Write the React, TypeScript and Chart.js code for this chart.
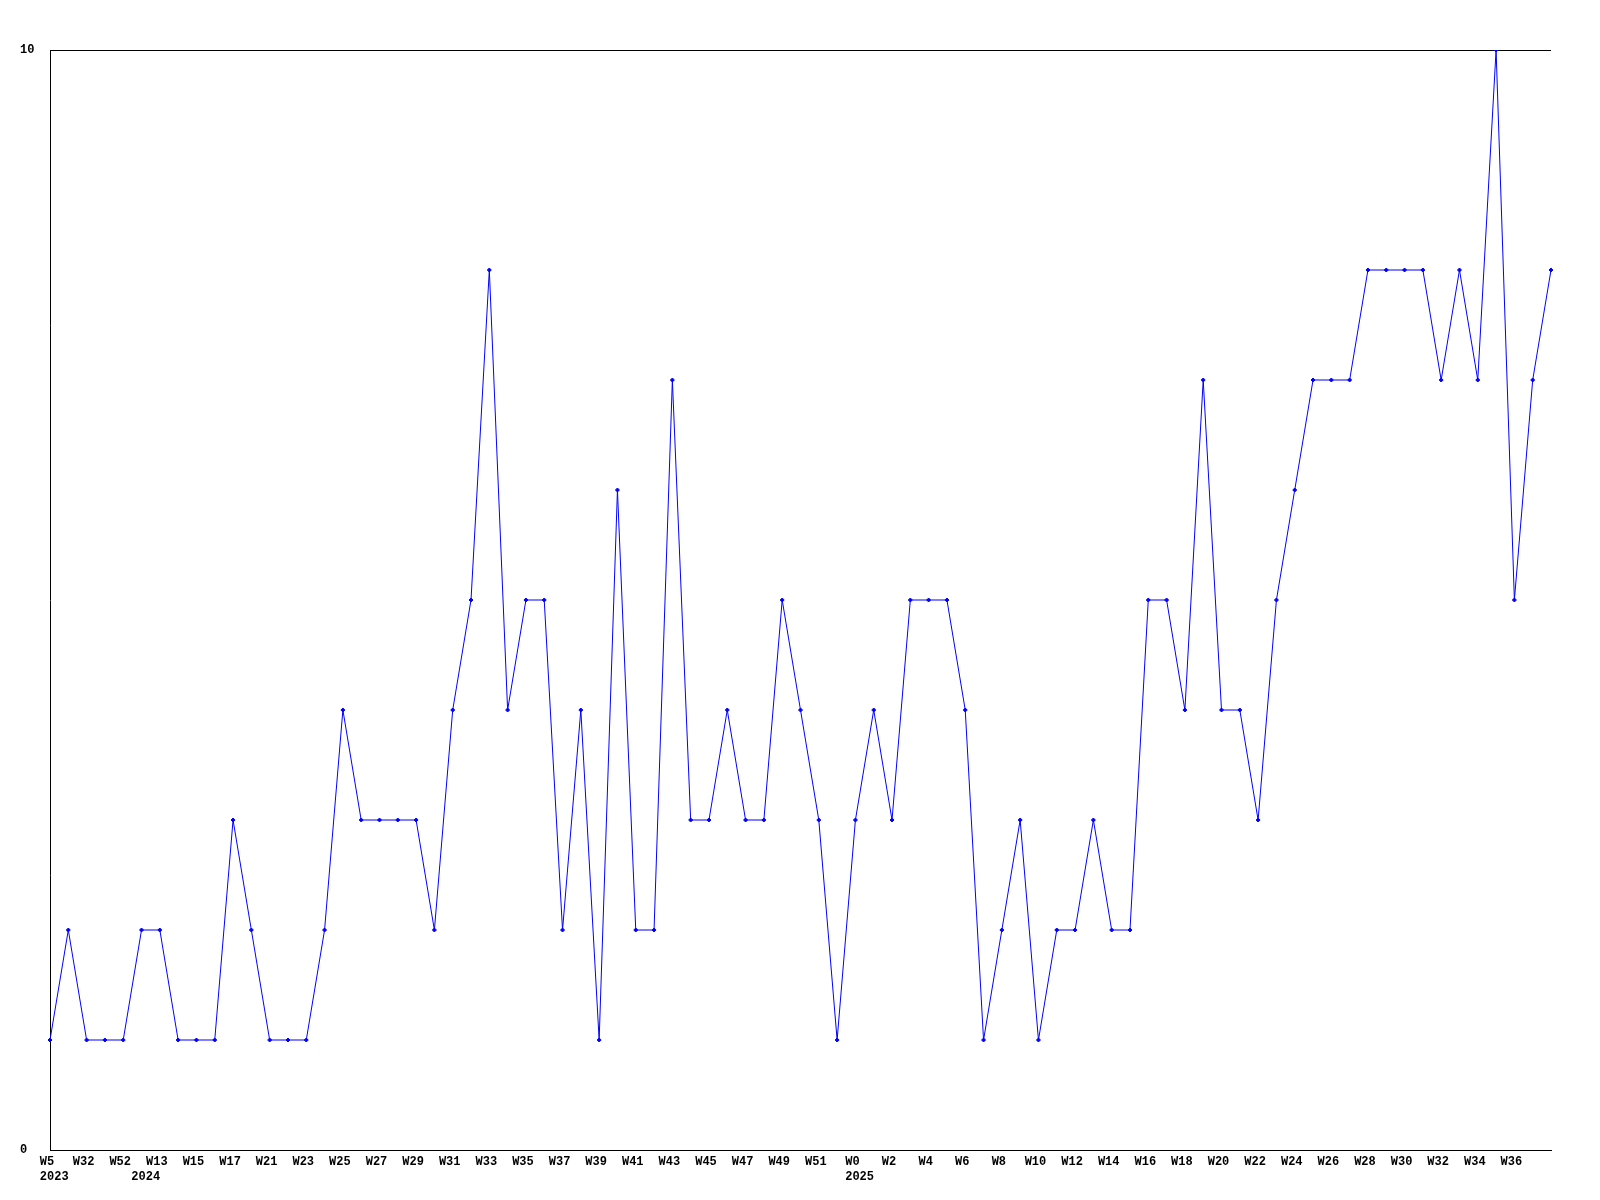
import React, { useEffect, useRef } from "react";
import { Chart, registerables } from "chart.js";

Chart.register(...registerables);

const weeks: string[] = [
  "W5", "W6", "W32", "W40", "W52", "W1", "W13", "W14", "W15", "W16",
  "W17", "W20", "W21", "W22", "W23", "W24", "W25", "W26", "W27", "W28",
  "W29", "W30", "W31", "W32", "W33", "W34", "W35", "W36", "W37", "W38",
  "W39", "W40", "W41", "W42", "W43", "W44", "W45", "W46", "W47", "W48",
  "W49", "W50", "W51", "W52", "W0", "W1", "W2", "W3", "W4", "W5",
  "W6", "W7", "W8", "W9", "W10", "W11", "W12", "W13", "W14", "W15",
  "W16", "W17", "W18", "W19", "W20", "W21", "W22", "W23", "W24", "W25",
  "W26", "W27", "W28", "W29", "W30", "W31", "W32", "W33", "W34", "W35",
  "W36", "W37", "W38",
];

const yearIndex: number[] = [0, 5, 44];
const yearLabels: string[] = ["2023", "2024", "2025"];

const values: number[] = [
  1, 2, 1, 1, 1, 2, 2, 1, 1, 1,
  3, 2, 1, 1, 1, 2, 4, 3, 3, 3,
  3, 2, 4, 5, 8, 4, 5, 5, 2, 4,
  1, 6, 2, 2, 7, 3, 3, 4, 3, 3,
  5, 4, 3, 1, 3, 4, 3, 5, 5, 5,
  4, 1, 2, 3, 1, 2, 2, 3, 2, 2,
  5, 5, 4, 7, 4, 4, 3, 5, 6, 7,
  7, 7, 8, 8, 8, 8, 7, 8, 7, 10,
  5, 7, 8,
];

const yTicks: number[] = [0, 10];

export default function App() {
  const ref = useRef<HTMLCanvasElement | null>(null);

  useEffect(() => {
    if (!ref.current) return;
    const font = { family: "'Liberation Mono', 'DejaVu Sans Mono', monospace", size: 12, weight: "bold" as const, lineHeight: 1.25 };
    const chart = new Chart(ref.current, {
      type: "line",
      data: {
        labels: weeks,
        datasets: [
          {
            data: values,
            borderColor: "#0000ff",
            backgroundColor: "#0000ff",
            borderWidth: 1,
            tension: 0,
            pointStyle: "rectRot",
            pointRadius: 2,
            pointBorderWidth: 1,
            pointHoverRadius: 2,
            fill: false,
          },
        ],
      },
      options: {
        animation: false,
        responsive: false,
        maintainAspectRatio: false,
        events: [],
        layout: { padding: { left: 20, top: 50, right: 49, bottom: 0 } },
        plugins: { legend: { display: false }, tooltip: { enabled: false } },
        scales: {
          x: {
            offset: false,
            grid: { display: false, drawTicks: false },
            border: { display: true, color: "#000", width: 1 },
            ticks: {
              autoSkip: false,
              maxRotation: 0,
              minRotation: 0,
              padding: 4,
              labelOffset: -3,
              color: "#000",
              font,
              callback: (_v: any, i: number) => {
                const yi = yearIndex.indexOf(i);
                const w = i % 2 === 0 && i < weeks.length - 1 ? weeks[i] : "";
                if (yi >= 0) return [w, "  " + yearLabels[yi]];
                return w;
              },
            },
            afterFit: (axis: any) => {
              axis.height = 50;
            },
          },
          y: {
            min: 0,
            max: 10,
            afterBuildTicks: (axis: any) => {
              axis.ticks = yTicks.map((v) => ({ value: v }));
            },
            grid: { display: true, color: "#000", drawTicks: false, lineWidth: 1 },
            border: { display: true, color: "#000", width: 1 },
            ticks: {
              color: "#000",
              font,
              padding: 0,
              crossAlign: "far",
            },
            afterFit: (axis: any) => {
              axis.width = 30;
            },
          },
        },
      },
    });
    return () => chart.destroy();
  }, []);

  return (
    <div style={{ position: "fixed", left: 0, top: 0, width: 1600, height: 1200, background: "#fff" }}>
      <canvas ref={ref} width={1600} height={1200} style={{ width: 1600, height: 1200 }} />
    </div>
  );
}
